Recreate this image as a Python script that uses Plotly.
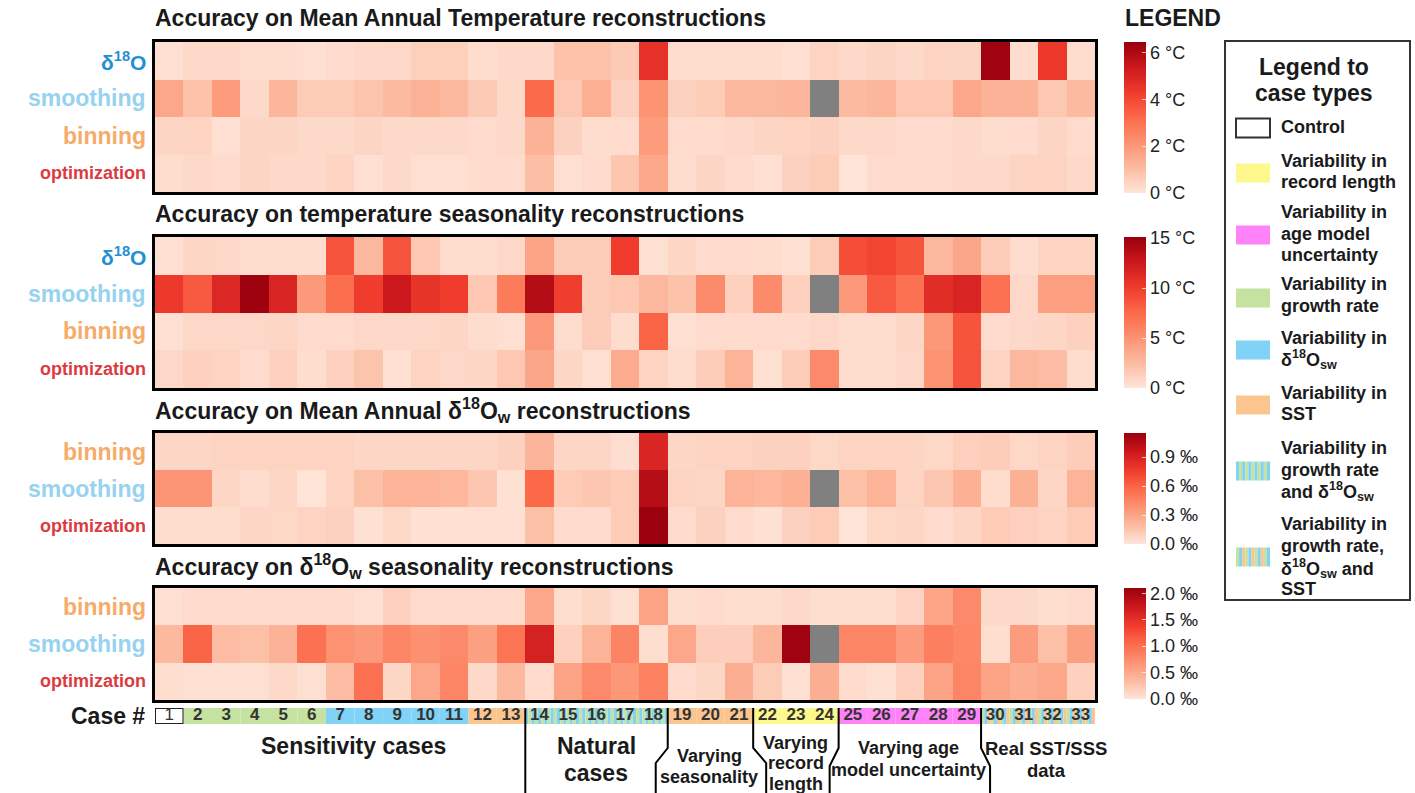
import plotly.graph_objects as go

W, H = 1415, 793
FONT = "Liberation Sans, Arial, sans-serif"
TXT = "#1a1a1a"

cases = list(range(1, 34))

# Mean annual temperature error (°C)
mat_d18o = [0.15, 0.3, 0.3, 0.2, 0.2, 0.15, 0.25, 0.3, 0.35, 0.55, 0.55, 0.2, 0.3, 0.3, 0.9, 0.9, 0.7,
            4.6, 0.2, 0.2, 0.2, 0.2, 0.15, 0.45, 0.3, 0.4, 0.3, 0.45, 0.4, 6.3, 0.2, 4.4, 0.2]
mat_smooth = [1.6, 0.9, 1.9, 0.3, 1.2, 0.65, 0.65, 0.85, 1.1, 1.3, 1.15, 0.7, 0.3, 3.2, 0.75, 1.4, 0.5,
              2.1, 0.5, 0.65, 1.15, 1.15, 1.2, None, 1.1, 1.2, 0.75, 0.75, 1.6, 1.3, 1.3, 0.75, 1.1]
mat_bin = [0.4, 0.45, 0.15, 0.4, 0.4, 0.3, 0.3, 0.4, 0.3, 0.3, 0.3, 0.25, 0.3, 1.3, 0.5, 0.2, 0.25,
           1.9, 0.25, 0.25, 0.3, 0.4, 0.45, 0.5, 0.3, 0.3, 0.25, 0.25, 0.3, 0.2, 0.25, 0.4, 0.25]
mat_opt = [0.2, 0.3, 0.25, 0.4, 0.3, 0.3, 0.45, 0.15, 0.3, 0.15, 0.15, 0.25, 0.25, 1.0, 0.15, 0.25, 0.8,
           1.6, 0.2, 0.4, 0.25, 0.15, 0.5, 0.65, 0.05, 0.25, 0.25, 0.25, 0.3, 0.3, 0.45, 0.45, 0.3]

# Temperature seasonality error (°C)
tsea_d18o = [0.3, 0.9, 0.75, 0.45, 0.45, 0.45, 8.8, 2.7, 8.8, 1.8, 0.45, 0.45, 0.75, 4.0, 1.5, 1.5, 10.0,
             0.3, 0.9, 0.6, 0.6, 0.45, 0.3, 1.5, 9.1, 9.5, 8.7, 2.7, 3.8, 1.5, 0.45, 1.1, 1.1]
tsea_smooth = [10.2, 8.4, 11.4, 14.9, 11.7, 4.6, 7.3, 10.0, 12.6, 10.6, 10.0, 1.8, 6.5, 13.7, 9.9, 1.5, 1.8,
               2.7, 2.1, 5.5, 1.2, 5.5, 1.2, None, 4.6, 8.4, 7.1, 11.1, 11.7, 7.1, 0.75, 4.3, 4.3]
tsea_bin = [0.3, 0.75, 0.75, 0.75, 0.9, 0.6, 0.6, 0.75, 0.75, 0.75, 0.9, 0.45, 0.3, 4.6, 0.45, 1.5, 0.45,
            7.9, 0.3, 0.6, 0.6, 0.6, 0.6, 0.75, 0.45, 0.45, 0.9, 4.7, 8.7, 0.6, 0.75, 0.9, 1.2]
tsea_opt = [0.75, 1.2, 1.1, 0.6, 1.2, 0.45, 1.2, 2.0, 0.3, 1.1, 0.75, 0.9, 1.8, 3.8, 0.9, 0.3, 3.5,
            1.1, 0.45, 1.5, 3.0, 0.3, 1.5, 5.6, 0.45, 0.45, 0.75, 4.9, 8.8, 1.1, 2.7, 2.4, 0.45]

# Mean annual d18Ow error (‰)
d18ow_bin = [0.07, 0.07, 0.08, 0.08, 0.08, 0.08, 0.08, 0.07, 0.07, 0.07, 0.07, 0.07, 0.09, 0.22, 0.07, 0.07, 0.03,
             0.88, 0.07, 0.08, 0.08, 0.09, 0.09, 0.06, 0.08, 0.08, 0.08, 0.06, 0.1, 0.11, 0.06, 0.08, 0.11]
d18ow_smooth = [0.37, 0.37, 0.07, 0.035, 0.07, 0.01, 0.08, 0.17, 0.23, 0.23, 0.21, 0.14, 0.02, 0.58, 0.12, 0.14, 0.12,
                1.04, 0.08, 0.07, 0.23, 0.21, 0.24, None, 0.17, 0.23, 0.08, 0.14, 0.24, 0.035, 0.24, 0.07, 0.23]
d18ow_opt = [0.035, 0.035, 0.035, 0.07, 0.06, 0.08, 0.09, 0.02, 0.06, 0.02, 0.02, 0.02, 0.02, 0.17, 0.045, 0.045, 0.12,
             1.14, 0.045, 0.09, 0.045, 0.02, 0.09, 0.12, 0.01, 0.06, 0.07, 0.045, 0.07, 0.12, 0.1, 0.08, 0.12]

# d18Ow seasonality error (‰)
wsea_bin = [0.04, 0.08, 0.08, 0.08, 0.08, 0.08, 0.08, 0.04, 0.17, 0.08, 0.08, 0.08, 0.08, 0.52, 0.06, 0.12, 0.04,
            0.56, 0.06, 0.08, 0.06, 0.06, 0.1, 0.06, 0.06, 0.06, 0.14, 0.54, 0.77, 0.1, 0.1, 0.06, 0.08]
wsea_smooth = [0.37, 1.1, 0.33, 0.31, 0.43, 0.99, 0.7, 0.64, 0.81, 0.72, 0.77, 0.58, 0.95, 1.66, 0.17, 0.41, 0.83,
               0.06, 0.52, 0.19, 0.19, 0.39, 2.05, None, 0.81, 0.81, 0.62, 0.87, 0.79, 0.06, 0.62, 0.31, 0.58]
wsea_opt = [0.06, 0.04, 0.04, 0.04, 0.1, 0.04, 0.33, 0.99, 0.12, 0.52, 0.81, 0.1, 0.37, 0.08, 0.56, 0.77, 0.66,
            0.85, 0.08, 0.12, 0.46, 0.21, 0.04, 0.46, 0.08, 0.04, 0.17, 0.56, 0.81, 0.56, 0.46, 0.52, 0.17]

# Case type of each case
case_types = (["control"] + ["growth"] * 5 + ["d18osw"] * 5 + ["sst"] * 2 + ["growth_d18osw"] * 5
              + ["sst"] * 3 + ["length"] * 3 + ["age"] * 5 + ["all"] * 4)

GREEN, BLUE, ORANGE, YELLOW, MAGENTA = "#c6e2a1", "#80d3f6", "#fac58e", "#fdf78c", "#ff82f9"
solid_colors = {"growth": GREEN, "d18osw": BLUE, "sst": ORANGE, "length": YELLOW, "age": MAGENTA}
stripe_colors = {"growth_d18osw": [BLUE, GREEN], "all": [GREEN, BLUE, ORANGE]}

D18O = "δ<sup>18</sup>O"
LABEL_STYLE = {D18O: ("#2190d3", 21), "smoothing": ("#97d2f0", 23), "binning": ("#f7ab6a", 23),
               "optimization": ("#db3b3f", 18)}

REDS = ["#fee5d9", "#fcbba1", "#fc9272", "#fb6a4a", "#ef3b2c", "#cb181d", "#99000d"]
colorscale = [[i / (len(REDS) - 1), c] for i, c in enumerate(REDS)]


def px_x(p):
    return p / W


def px_y(p):
    return 1 - p / H


X0, X1 = 155, 1095

panels = [
    dict(title="Accuracy on Mean Annual Temperature reconstructions", ty=18, top=42, bot=192,
         rows=[D18O, "smoothing", "binning", "optimization"], z=[mat_d18o, mat_smooth, mat_bin, mat_opt],
         zmax=6.45, ticks=[0, 2, 4, 6], fmt="{} °C", cb=(42, 193)),
    dict(title="Accuracy on temperature seasonality reconstructions", ty=214, top=237, bot=388,
         rows=[D18O, "smoothing", "binning", "optimization"], z=[tsea_d18o, tsea_smooth, tsea_bin, tsea_opt],
         zmax=15.1, ticks=[0, 5, 10, 15], fmt="{} °C", cb=(237, 388)),
    dict(title="Accuracy on Mean Annual δ<sup>18</sup>O<sub>w</sub> reconstructions", ty=410, top=433, bot=544,
         rows=["binning", "smoothing", "optimization"], z=[d18ow_bin, d18ow_smooth, d18ow_opt],
         zmax=1.15, ticks=[0.0, 0.3, 0.6, 0.9], fmt="{:.1f} ‰", cb=(433, 544)),
    dict(title="Accuracy on δ<sup>18</sup>O<sub>w</sub> seasonality reconstructions", ty=566, top=588, bot=700,
         rows=["binning", "smoothing", "optimization"], z=[wsea_bin, wsea_smooth, wsea_opt],
         zmax=2.1, ticks=[0.0, 0.5, 1.0, 1.5, 2.0], fmt="{:.1f} ‰", cb=(588, 699)),
]

fig = go.Figure()
layout = dict(width=W, height=H, margin=dict(l=0, r=0, t=0, b=0), paper_bgcolor="white",
              plot_bgcolor="white", showlegend=False, font=dict(family=FONT, color=TXT))
annotations, shapes = [], []

for k, p in enumerate(panels, start=1):
    n = len(p["rows"])
    fig.add_trace(go.Heatmap(
        z=p["z"], x=cases, y=list(range(n)), zmin=0, zmax=p["zmax"], colorscale=colorscale,
        xaxis=f"x{k}", yaxis=f"y{k}", hoverongaps=False,
        colorbar=dict(x=px_x(1124), xanchor="left", xpad=0, ypad=0, y=px_y(p["cb"][0]), yanchor="top",
                      len=p["cb"][1] - p["cb"][0], lenmode="pixels", thickness=22, thicknessmode="pixels",
                      outlinewidth=0, tickvals=p["ticks"], ticktext=[p["fmt"].format(t) for t in p["ticks"]],
                      ticks="inside", ticklen=4, tickcolor="rgba(255,255,255,0.7)",
                      tickfont=dict(family=FONT, size=18, color="#222"))))
    # missing cells drawn in grey
    miss = [[1 if v is None else None for v in row] for row in p["z"]]
    fig.add_trace(go.Heatmap(z=miss, x=cases, y=list(range(n)), colorscale=[[0, "#808080"], [1, "#808080"]],
                             showscale=False, xaxis=f"x{k}", yaxis=f"y{k}", hoverinfo="skip"))
    ax = dict(showgrid=False, zeroline=False, showticklabels=False, ticks="", showline=True, mirror=True,
              linecolor="black", linewidth=3)
    layout[f"xaxis{k}" if k > 1 else "xaxis"] = dict(ax, domain=[px_x(X0), px_x(X1)], range=[0.5, 33.5],
                                                     anchor=f"y{k}")
    layout[f"yaxis{k}" if k > 1 else "yaxis"] = dict(ax, domain=[px_y(p["bot"]), px_y(p["top"])],
                                                     range=[n - 0.5, -0.5], anchor=f"x{k}")
    annotations.append(dict(text=f"<b>{p['title']}</b>", x=px_x(153), y=px_y(p["ty"]), xref="paper",
                            yref="paper", xanchor="left", yanchor="middle", showarrow=False,
                            font=dict(size=23, color=TXT)))
    for i, r in enumerate(p["rows"]):
        col, fs = LABEL_STYLE[r]
        annotations.append(dict(text=f"<b>{r}</b>", x=px_x(148), y=i, xref="paper", yref=f"y{k}",
                                xanchor="right", yanchor="middle", showarrow=False,
                                font=dict(size=fs, color=col)))

# Case number strip
layout["xaxis5"] = dict(domain=[px_x(X0), px_x(X1)], range=[0.5, 33.5], visible=False, anchor="y5")
layout["yaxis5"] = dict(domain=[px_y(724), px_y(708)], range=[0, 1], visible=False, anchor="x5")
NSTRIPE = 9
for c, t in zip(cases, case_types):
    if t == "control":
        shapes.append(dict(type="rect", xref="x5", yref="y5", x0=c - 0.5, x1=c + 0.5, y0=0, y1=1,
                           fillcolor="white", line=dict(color="#222", width=2), layer="below"))
    elif t in solid_colors:
        shapes.append(dict(type="rect", xref="x5", yref="y5", x0=c - 0.5, x1=c + 0.5, y0=0, y1=1,
                           fillcolor=solid_colors[t], line=dict(width=0), layer="below"))
    else:
        cols = stripe_colors[t]
        for s in range(NSTRIPE):
            shapes.append(dict(type="rect", xref="x5", yref="y5", x0=c - 0.5 + s / NSTRIPE,
                               x1=c - 0.5 + (s + 1) / NSTRIPE, y0=0, y1=1,
                               fillcolor=cols[(s + (c * NSTRIPE)) % len(cols)], line=dict(width=0),
                               layer="below"))
fig.add_trace(go.Scatter(x=cases, y=[0.5] * 33, mode="text", xaxis="x5", yaxis="y5",
                         text=[str(c) if c == 1 else f"<b>{c}</b>" for c in cases],
                         textfont=dict(size=17, color="#333"), hoverinfo="skip"))
annotations.append(dict(text="<b>Case #</b>", x=px_x(147), y=px_y(716), xref="paper", yref="paper",
                        xanchor="right", yanchor="middle", showarrow=False, font=dict(size=23, color=TXT)))


# Group brackets below the case strip
def bx(boundary):
    return X0 + (boundary - 0.5) * (X1 - X0) / 33


def path(points):
    return "M " + " L ".join(f"{px_x(a)},{px_y(b)}" for a, b in points)


brackets = [
    [(bx(13.5), 708), (bx(13.5), 793)],
    [(bx(18.5), 708), (bx(18.5), 748), (bx(18.5) - 12, 763), (bx(18.5) - 12, 793)],
    [(bx(21.5), 708), (bx(21.5), 748), (bx(21.5) + 13, 763), (bx(21.5) + 13, 793)],
    [(bx(24.5), 708), (bx(24.5), 748), (bx(24.5) - 9, 766), (bx(24.5) - 9, 793)],
    [(bx(29.5), 708), (bx(29.5), 748), (bx(29.5) + 9, 766), (bx(29.5) + 9, 793)],
]
for b in brackets:
    shapes.append(dict(type="path", xref="paper", yref="paper", path=path(b), line=dict(color="black", width=2)))

groups = [
    ("Sensitivity cases", 353, [746], 23),
    ("Natural|cases", 596, [746, 773], 23),
    ("Varying|seasonality", 709, [756, 777], 18),
    ("Varying|record|length", 796, [743, 763, 784], 18),
    ("Varying age|model uncertainty", 909, [748, 770], 18),
    ("Real SST/SSS|data", 1046, [748, 770], 18.5),
]
for text, cx, ys, fs in groups:
    for line, yy in zip(text.split("|"), ys):
        annotations.append(dict(text=f"<b>{line}</b>", x=px_x(cx), y=px_y(yy), xref="paper", yref="paper",
                                xanchor="center", yanchor="middle", showarrow=False,
                                font=dict(size=fs, color=TXT)))

# Colour bar header
annotations.append(dict(text="<b>LEGEND</b>", x=px_x(1123), y=px_y(18), xref="paper", yref="paper",
                        xanchor="left", yanchor="middle", showarrow=False, font=dict(size=23, color=TXT)))

# Case type legend box
shapes.append(dict(type="rect", xref="paper", yref="paper", x0=px_x(1225), x1=px_x(1410), y0=px_y(600),
                   y1=px_y(41), line=dict(color="#333", width=2), fillcolor="rgba(0,0,0,0)"))
for line, yy in [("Legend to", 67), ("case types", 93)]:
    annotations.append(dict(text=f"<b>{line}</b>", x=px_x(1314), y=px_y(yy), xref="paper", yref="paper",
                            xanchor="center", yanchor="middle", showarrow=False, font=dict(size=23, color=TXT)))

SW = "δ<sup>18</sup>O<sub>sw</sub>"
legend_items = [
    ("control", 128, ["Control"], [127]),
    ("length", 173, ["Variability in", "record length"], [161, 182]),
    ("age", 235, ["Variability in", "age model", "uncertainty"], [212, 234, 255]),
    ("growth", 298, ["Variability in", "growth rate"], [284, 306]),
    ("d18osw", 350, ["Variability in", SW], [338, 359]),
    ("sst", 405, ["Variability in", "SST"], [393, 414]),
    ("growth_d18osw", 471, ["Variability in", "growth rate", "and " + SW], [448, 470, 491]),
    ("all", 557, ["Variability in", "growth rate,", SW + " and", "SST"], [524, 546, 568, 589]),
]
for t, sy, lines, lys in legend_items:
    x0, x1, y0, y1 = 1236, 1270, sy - 9.5, sy + 9.5
    if t == "control":
        shapes.append(dict(type="rect", xref="paper", yref="paper", x0=px_x(x0), x1=px_x(x1), y0=px_y(y1),
                           y1=px_y(y0), fillcolor="white", line=dict(color="#333", width=2)))
    elif t in solid_colors:
        shapes.append(dict(type="rect", xref="paper", yref="paper", x0=px_x(x0), x1=px_x(x1), y0=px_y(y1),
                           y1=px_y(y0), fillcolor=solid_colors[t], line=dict(width=0)))
    else:
        cols = stripe_colors[t]
        ns = 11
        for s in range(ns):
            shapes.append(dict(type="rect", xref="paper", yref="paper", x0=px_x(x0 + s * (x1 - x0) / ns),
                               x1=px_x(x0 + (s + 1) * (x1 - x0) / ns), y0=px_y(y1), y1=px_y(y0),
                               fillcolor=cols[s % len(cols)], line=dict(width=0)))
    for line, yy in zip(lines, lys):
        annotations.append(dict(text=f"<b>{line}</b>", x=px_x(1279), y=px_y(yy), xref="paper", yref="paper",
                                xanchor="left", yanchor="middle", showarrow=False, font=dict(size=18, color=TXT)))

layout["annotations"] = annotations
layout["shapes"] = shapes
fig.update_layout(**layout)
fig.write_html("out.html")
